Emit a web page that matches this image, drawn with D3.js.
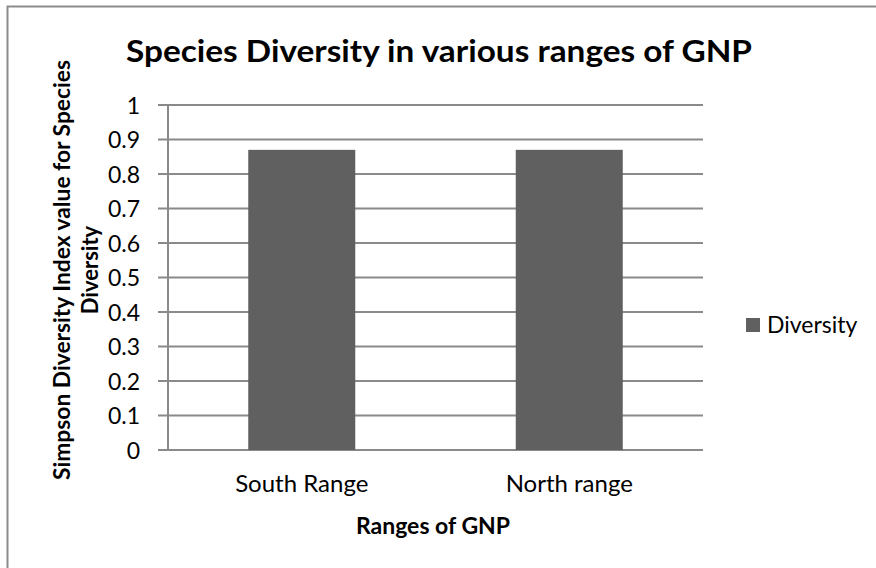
<!DOCTYPE html>
<html>
<head>
<meta charset="utf-8">
<script src="https://cdn.jsdelivr.net/npm/d3@7"></script>
<style>
  body { margin: 0; background: #fff; }
  text { font-family: Lato, "Open Sans", sans-serif; fill: #000; }
</style>
</head>
<body>
<div id="chart"></div>
<script>
// data
var categories = ["South Range", "North range"];
var diversity = [0.87, 0.87];
var yTicks = [0, 0.1, 0.2, 0.3, 0.4, 0.5, 0.6, 0.7, 0.8, 0.9, 1];
var seriesName = "Diversity";

var W = 876, H = 568;
var margin = {left: 168, right: 173, top: 105, bottom: 118};
var width = W - margin.left - margin.right;
var height = H - margin.top - margin.bottom;

var svg = d3.select("#chart").append("svg")
    .attr("width", W)
    .attr("height", H);

// outer chart border
svg.append("rect")
    .attr("x", 7.5).attr("y", 6.5)
    .attr("width", W + 10).attr("height", H + 10)
    .attr("fill", "none")
    .attr("stroke", "#8c8c8c")
    .attr("stroke-width", 2);

var g = svg.append("g")
    .attr("class", "main-group")
    .attr("transform", "translate(" + margin.left + "," + margin.top + ")");

var x = d3.scaleBand()
    .domain(categories)
    .range([0, width])
    .paddingInner(0.6)
    .paddingOuter(0.3);

var y = d3.scaleLinear()
    .domain([0, 1])
    .range([height, 0]);

// gridlines
g.append("g")
    .attr("class", "grid")
    .selectAll("line")
    .data(yTicks)
    .enter().append("line")
    .attr("x1", -10)
    .attr("x2", width)
    .attr("y1", function(d) { return y(d); })
    .attr("y2", function(d) { return y(d); })
    .attr("stroke", "#8a8a8a")
    .attr("stroke-width", 2);

// y axis labels
var yAxis = g.append("g")
    .call(d3.axisLeft(y).tickValues(yTicks).tickSize(0).tickPadding(28)
        .tickFormat(function(d) { return d3.format("")(+d.toFixed(1)); }));
yAxis.select(".domain").remove();
yAxis.selectAll("text")
    .style("font-size", "23px")
    .attr("fill", "#000")
    .attr("dy", "0.35em");

// y axis line
g.append("line")
    .attr("x1", 0).attr("x2", 0)
    .attr("y1", 0).attr("y2", height)
    .attr("stroke", "#8a8a8a")
    .attr("stroke-width", 2);

// bars
g.selectAll("rect.bar")
    .data(diversity)
    .enter().append("rect")
    .attr("class", "bar")
    .attr("x", function(d, i) { return x(categories[i]); })
    .attr("y", function(d) { return y(d); })
    .attr("width", x.bandwidth())
    .attr("height", function(d) { return height - y(d); })
    .attr("fill", "#606060");

// x axis
var xAxis = g.append("g")
    .attr("transform", "translate(0," + height + ")")
    .call(d3.axisBottom(x).tickSize(0).tickPadding(25));
xAxis.select(".domain").remove();
xAxis.selectAll("text")
    .style("font-size", "24px")
    .attr("fill", "#000");

// title
svg.append("text")
    .attr("x", 439)
    .attr("y", 62)
    .attr("text-anchor", "middle")
    .attr("textLength", 626)
    .attr("lengthAdjust", "spacingAndGlyphs")
    .style("font-size", "30px")
    .style("font-weight", "bold")
    .text("Species Diversity in various ranges of GNP");

// x title
svg.append("text")
    .attr("x", 433)
    .attr("y", 534)
    .attr("text-anchor", "middle")
    .style("font-size", "23px")
    .style("font-weight", "bold")
    .text("Ranges of GNP");

// y title (two lines)
var yt = svg.append("text")
    .attr("transform", "translate(70,270) rotate(-90)")
    .attr("text-anchor", "middle")
    .style("font-size", "22px")
    .style("font-weight", "bold");
yt.append("tspan").attr("x", 0).attr("dy", 0)
    .attr("textLength", 420)
    .attr("lengthAdjust", "spacingAndGlyphs")
    .text("Simpson Diversity Index value for Species");
yt.append("tspan").attr("x", 0).attr("dy", 28)
    .text("Diversity");

// legend
var leg = svg.append("g").attr("transform", "translate(746,318)");
leg.append("rect")
    .attr("width", 14).attr("height", 14)
    .attr("fill", "#606060");
leg.append("text")
    .attr("x", 21).attr("y", 15)
    .style("font-size", "23px")
    .text(seriesName);
</script>
</body>
</html>
